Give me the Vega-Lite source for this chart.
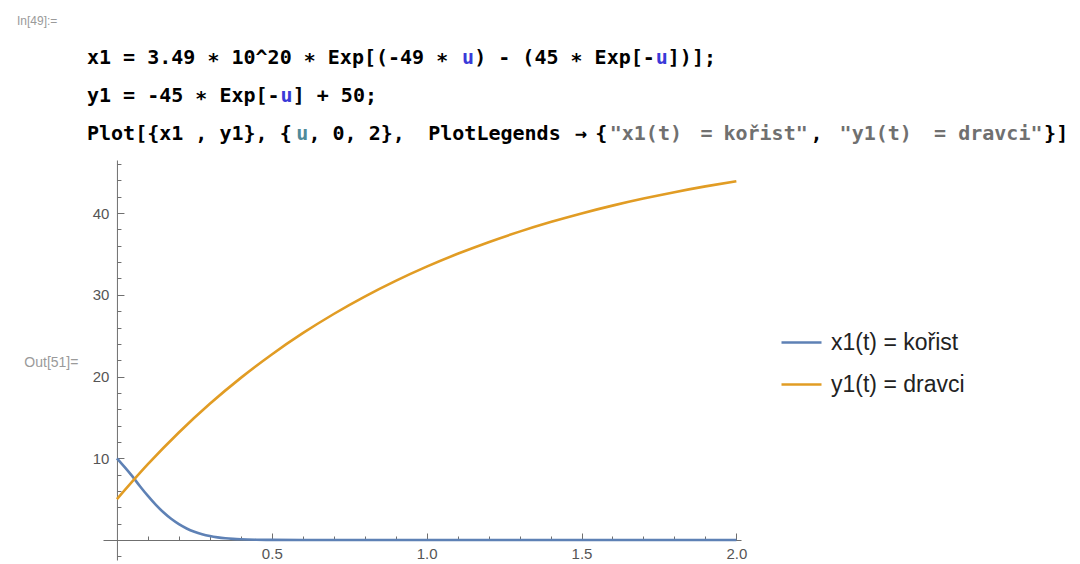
{
  "$schema": "https://vega.github.io/schema/vega-lite/v6.json",
  "width": 638,
  "height": 400,
  "autosize": {"type": "none"},
  "padding": {"left": 103, "top": 160, "right": 339, "bottom": 4},
  "background": "white",
  "config": {"view": {"stroke": null}},
  "title": {
    "text": "In[49]:=",
    "anchor": "start",
    "frame": "group",
    "font": "Liberation Sans",
    "fontSize": 12,
    "fontWeight": "normal",
    "color": "#9a9a9a",
    "dx": -86,
    "offset": 20
  },
  "datasets": {
    "code": [
      {"line": 1, "col": 0, "text": "x1 = 3.49 ∗ 10^20 ∗ Exp[(-49 ∗", "kind": "code"},
      {"line": 1, "col": 31, "text": "u", "kind": "symbol"},
      {"line": 1, "col": 32, "text": ") - (45 ∗ Exp[-", "kind": "code"},
      {"line": 1, "col": 47, "text": "u", "kind": "symbol"},
      {"line": 1, "col": 48, "text": "])];", "kind": "code"},
      {"line": 2, "col": 0, "text": "y1 = -45 ∗ Exp[-", "kind": "code"},
      {"line": 2, "col": 16, "text": "u", "kind": "symbol"},
      {"line": 2, "col": 17, "text": "] + 50;", "kind": "code"},
      {"line": 3, "col": 0, "text": "Plot[{x1 , y1}, {", "kind": "code"},
      {"line": 3, "col": 17.3, "text": "u", "kind": "local"},
      {"line": 3, "col": 18.3, "text": ", 0, 2},", "kind": "code"},
      {"line": 3, "col": 28.2, "text": "PlotLegends", "kind": "code"},
      {"line": 3, "col": 40.3, "text": "→", "kind": "code"},
      {"line": 3, "col": 42.0, "text": "{", "kind": "code"},
      {"line": 3, "col": 43.2, "text": "\"x1(t)", "kind": "string"},
      {"line": 3, "col": 50.7, "text": "=", "kind": "string"},
      {"line": 3, "col": 52.6, "text": "kořist\"", "kind": "string"},
      {"line": 3, "col": 59.8, "text": ",", "kind": "code"},
      {"line": 3, "col": 62.2, "text": "\"y1(t)", "kind": "string"},
      {"line": 3, "col": 70.0, "text": "=", "kind": "string"},
      {"line": 3, "col": 72.0, "text": "dravci\"", "kind": "string"},
      {"line": 3, "col": 79.1, "text": "}]", "kind": "code"}
    ],
    "curves": [
      {"u": 0, "value": 9.99, "series": "x1(t) = kořist"},
      {"u": 0.025, "value": 8.914, "series": "x1(t) = kořist"},
      {"u": 0.05, "value": 7.778, "series": "x1(t) = kořist"},
      {"u": 0.075, "value": 6.542, "series": "x1(t) = kořist"},
      {"u": 0.1, "value": 5.387, "series": "x1(t) = kořist"},
      {"u": 0.125, "value": 4.324, "series": "x1(t) = kořist"},
      {"u": 0.15, "value": 3.386, "series": "x1(t) = kořist"},
      {"u": 0.175, "value": 2.588, "series": "x1(t) = kořist"},
      {"u": 0.2, "value": 1.932, "series": "x1(t) = kořist"},
      {"u": 0.225, "value": 1.41, "series": "x1(t) = kořist"},
      {"u": 0.25, "value": 1.006, "series": "x1(t) = kořist"},
      {"u": 0.275, "value": 0.702, "series": "x1(t) = kořist"},
      {"u": 0.3, "value": 0.479, "series": "x1(t) = kořist"},
      {"u": 0.325, "value": 0.321, "series": "x1(t) = kořist"},
      {"u": 0.35, "value": 0.21, "series": "x1(t) = kořist"},
      {"u": 0.375, "value": 0.135, "series": "x1(t) = kořist"},
      {"u": 0.4, "value": 0.085, "series": "x1(t) = kořist"},
      {"u": 0.45, "value": 0.032, "series": "x1(t) = kořist"},
      {"u": 0.5, "value": 0.011, "series": "x1(t) = kořist"},
      {"u": 0.6, "value": 0.001, "series": "x1(t) = kořist"},
      {"u": 0.7, "value": 0, "series": "x1(t) = kořist"},
      {"u": 0.8, "value": 0, "series": "x1(t) = kořist"},
      {"u": 1.0, "value": 0, "series": "x1(t) = kořist"},
      {"u": 1.2, "value": 0, "series": "x1(t) = kořist"},
      {"u": 1.4, "value": 0, "series": "x1(t) = kořist"},
      {"u": 1.6, "value": 0, "series": "x1(t) = kořist"},
      {"u": 1.8, "value": 0, "series": "x1(t) = kořist"},
      {"u": 2.0, "value": 0, "series": "x1(t) = kořist"},
      {"u": 0, "value": 5, "series": "y1(t) = dravci"},
      {"u": 0.1, "value": 9.282, "series": "y1(t) = dravci"},
      {"u": 0.2, "value": 13.157, "series": "y1(t) = dravci"},
      {"u": 0.3, "value": 16.663, "series": "y1(t) = dravci"},
      {"u": 0.4, "value": 19.836, "series": "y1(t) = dravci"},
      {"u": 0.5, "value": 22.706, "series": "y1(t) = dravci"},
      {"u": 0.6, "value": 25.303, "series": "y1(t) = dravci"},
      {"u": 0.7, "value": 27.654, "series": "y1(t) = dravci"},
      {"u": 0.8, "value": 29.78, "series": "y1(t) = dravci"},
      {"u": 0.9, "value": 31.704, "series": "y1(t) = dravci"},
      {"u": 1.0, "value": 33.445, "series": "y1(t) = dravci"},
      {"u": 1.1, "value": 35.021, "series": "y1(t) = dravci"},
      {"u": 1.2, "value": 36.446, "series": "y1(t) = dravci"},
      {"u": 1.3, "value": 37.736, "series": "y1(t) = dravci"},
      {"u": 1.4, "value": 38.903, "series": "y1(t) = dravci"},
      {"u": 1.5, "value": 39.959, "series": "y1(t) = dravci"},
      {"u": 1.6, "value": 40.915, "series": "y1(t) = dravci"},
      {"u": 1.7, "value": 41.779, "series": "y1(t) = dravci"},
      {"u": 1.8, "value": 42.562, "series": "y1(t) = dravci"},
      {"u": 1.9, "value": 43.269, "series": "y1(t) = dravci"},
      {"u": 2.0, "value": 43.91, "series": "y1(t) = dravci"}
    ]
  },
  "layer": [
    {
      "data": {"name": "code"},
      "mark": {
        "type": "text",
        "font": "DejaVu Sans Mono",
        "fontWeight": "bold",
        "fontSize": 20,
        "align": "left",
        "baseline": "alphabetic",
        "clip": false
      },
      "encoding": {
        "x": {
          "field": "col",
          "type": "quantitative",
          "scale": {"domain": [0, 80], "range": [-16, 952], "nice": false, "zero": false},
          "axis": null
        },
        "y": {
          "field": "line",
          "type": "quantitative",
          "scale": {"domain": [1, 3], "range": [-96, -20], "nice": false, "zero": false},
          "axis": null
        },
        "text": {"field": "text"},
        "color": {
          "field": "kind",
          "type": "nominal",
          "scale": {
            "domain": ["code", "symbol", "local", "string"],
            "range": ["#000000", "#3a3ad8", "#4f8a9a", "#707070"]
          },
          "legend": null
        }
      }
    },
    {
      "data": {"name": "curves"},
      "mark": {"type": "line", "interpolate": "monotone", "strokeWidth": 2.6, "clip": false},
      "encoding": {
        "x": {
          "field": "u",
          "type": "quantitative",
          "scale": {"domain": [-0.045, 2.015], "nice": false, "zero": false},
          "axis": {
            "orient": "bottom",
            "offset": -20,
            "title": null,
            "grid": false,
            "values": [0.1, 0.2, 0.3, 0.4, 0.5, 0.6, 0.7, 0.8, 0.9, 1.0, 1.1, 1.2, 1.3, 1.4, 1.5, 1.6, 1.7, 1.8, 1.9, 2.0],
            "format": ".1f",
            "labelExpr": "indexof(['0.5', '1.0', '1.5', '2.0'], datum.label) >= 0 ? datum.label : ''",
            "tickSize": {"condition": {"test": "indexof([0.5, 1, 1.5, 2], datum.value) >= 0", "value": -7}, "value": -4},
            "tickColor": "#6f6f6f",
            "tickWidth": 1,
            "domainColor": "#6f6f6f",
            "domainWidth": 1,
            "labelColor": "#555555",
            "labelFont": "Liberation Sans",
            "labelFontSize": 15,
            "labelPadding": 13,
            "labelFlush": false,
            "labelOverlap": false
          }
        },
        "y": {
          "field": "value",
          "type": "quantitative",
          "scale": {"domain": [-2.45, 46.5], "nice": false, "zero": false},
          "axis": {
            "orient": "left",
            "offset": -13.94,
            "grid": false,
            "values": [-2, 2, 4, 6, 8, 10, 12, 14, 16, 18, 20, 22, 24, 26, 28, 30, 32, 34, 36, 38, 40, 42, 44, 46],
            "labelExpr": "datum.value % 10 == 0 ? datum.label : ''",
            "tickSize": {"condition": {"test": "datum.value % 10 == 0", "value": -7}, "value": -4},
            "tickColor": "#6f6f6f",
            "tickWidth": 1,
            "domainColor": "#6f6f6f",
            "domainWidth": 1,
            "labelColor": "#555555",
            "labelFont": "Liberation Sans",
            "labelFontSize": 15,
            "labelPadding": 15,
            "labelFlush": false,
            "labelOverlap": false,
            "title": "Out[51]=",
            "titleAngle": 0,
            "titleAlign": "right",
            "titleBaseline": "middle",
            "titleX": -39,
            "titleY": 202,
            "titleFont": "Liberation Sans",
            "titleFontSize": 14,
            "titleFontWeight": "normal",
            "titleColor": "#9a9a9a"
          }
        },
        "color": {
          "field": "series",
          "type": "nominal",
          "scale": {
            "domain": ["x1(t) = kořist", "y1(t) = dravci"],
            "range": ["#5e81b5", "#e19c24"]
          },
          "legend": {
            "orient": "none",
            "legendX": 677,
            "legendY": 161,
            "title": null,
            "padding": 0,
            "symbolType": "stroke",
            "symbolSize": 1600,
            "symbolStrokeWidth": 2.5,
            "labelFont": "Liberation Sans",
            "labelFontSize": 23,
            "labelColor": "#222222",
            "labelOffset": 8,
            "labelLimit": 300,
            "rowPadding": 8
          }
        }
      }
    }
  ],
  "resolve": {
    "scale": {"x": "independent", "y": "independent", "color": "independent"},
    "legend": {"color": "independent"}
  }
}
